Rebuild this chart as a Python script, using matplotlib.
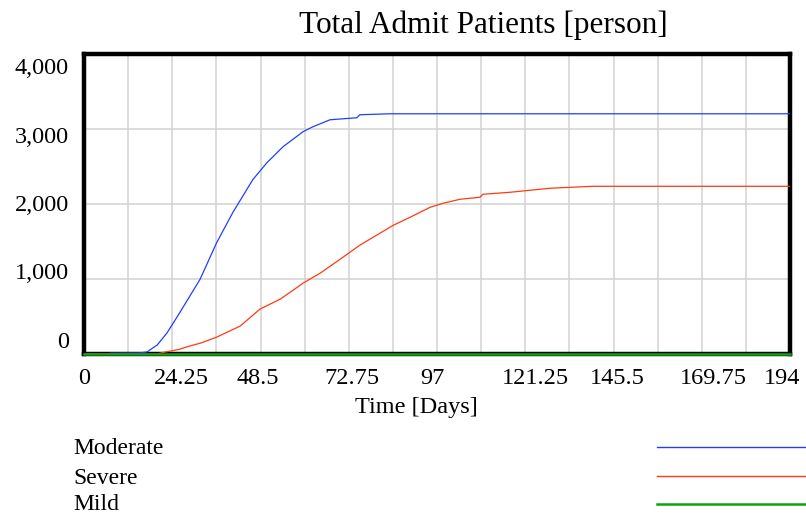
import matplotlib.pyplot as plt
from matplotlib.lines import Line2D
from matplotlib.transforms import offset_copy

# series (time in days, value in persons)
moderate_t = [0, 7.1, 7.2, 15.4, 17.3, 20.1, 22.8, 26.4, 31.9, 36.5, 40.9, 46.4,
              50.3, 54.7, 60.2, 62.9, 67.6, 75.0, 75.8, 84.1, 194]
moderate_v = [0, 0, 12, 15, 27, 120, 280, 558, 997, 1489, 1887, 2326,
              2552, 2764, 2964, 3030, 3123, 3150, 3190, 3203, 3203]

severe_t = [0, 20.0, 21.7, 26.0, 29.0, 32.1, 36.5, 42.9, 48.4, 53.9, 57.5, 60.2,
            64.9, 70.4, 75.8, 81.3, 85.0, 89.6, 95.1, 98.7, 103.3, 108.8, 109.6,
            117.0, 128.0, 139.8, 194]
severe_v = [0, 0, 20, 60, 106, 146, 226, 372, 600, 731, 852, 945,
            1078, 1264, 1451, 1610, 1717, 1823, 1956, 2010, 2063, 2090, 2130,
            2156, 2210, 2236, 2236]

mild_t = [0, 194]
mild_v = [3, 3]

x_ticks = [0, 24.25, 48.5, 72.75, 97, 121.25, 145.5, 169.75, 194]
x_grid = [i * 12.125 for i in range(1, 16)]
y_ticks = [0, 1000, 2000, 3000, 4000]
y_labels = ["0", "1,000", "2,000", "3,000", "4,000"]

series_names = ["Moderate", "Severe", "Mild"]
series_colors = ["#1f3fff", "#ff3a12", "#10a010"]

# pixel nudges so the tick labels sit where the Vensim output put them
x_label_nudge = [0, 9, -3, 3, -5, 10, 4, 12, -8]

serif = ["Liberation Serif", "DejaVu Serif"]
plt.rcParams["font.family"] = serif

fig = plt.figure(figsize=(8.06, 5.18), dpi=100)
W, H = 806, 518
ax = fig.add_axes([84 / W, 1 - 354 / H, (790 - 84) / W, (354 - 54) / H])

for gx in x_grid:
    ax.axvline(gx, color="#d2d2d2", lw=1.1, zorder=0)
for gy in y_ticks[1:-1]:
    ax.axhline(gy, color="#d2d2d2", lw=1.1, zorder=0)

ax.plot(moderate_t, moderate_v, color=series_colors[0], lw=0.9, zorder=3)
ax.plot(severe_t, severe_v, color=series_colors[1], lw=0.9, zorder=3)
ax.plot(mild_t, mild_v, color=series_colors[2], lw=1.8, zorder=4, clip_on=False)

ax.set_xlim(0, 194)
ax.set_ylim(0, 4000)
ax.set_xticks([])
ax.set_yticks([])
for sp in ax.spines.values():
    sp.set_linewidth(3.2)
    sp.set_color("black")

# y tick labels, spread evenly inside the frame like Vensim does
for v, lab in zip(y_ticks, y_labels):
    ay = 0.040 + v / 4000 * 0.910
    ax.text(-15 / 706, ay, lab, transform=ax.transAxes, ha="right", va="center",
            fontsize=17.5)

# x tick labels
for t, dx in zip(x_ticks, x_label_nudge):
    tr = offset_copy(ax.get_xaxis_transform(), fig=fig, x=dx * 0.72, y=0,
                     units="points")
    ax.text(t, -24 / 300, str(t).rstrip("0").rstrip(".") if t else "0",
            transform=tr, ha="center", va="center", fontsize=17.5)

fig.text(416 / W, 1 - 408 / H, "Time [Days]", ha="center", va="center", fontsize=17.5)
fig.text(483 / W, 1 - 25 / H, "Total Admit Patients [person]", ha="center",
         va="center", fontsize=22.5)

# legend rows below the chart
legend_y = [449, 478, 505]
line_y = [447, 476, 504]
widths = [1.0, 1.0, 1.8]
for name, col, ty, ly, lw in zip(series_names, series_colors, legend_y, line_y, widths):
    fig.text(73 / W, 1 - ty / H, name, ha="left", va="center", fontsize=17)
    fig.add_artist(Line2D([657 / W, 806 / W], [1 - ly / H, 1 - ly / H],
                          transform=fig.transFigure, color=col, lw=lw))

fig.savefig("out.png", dpi=100)
